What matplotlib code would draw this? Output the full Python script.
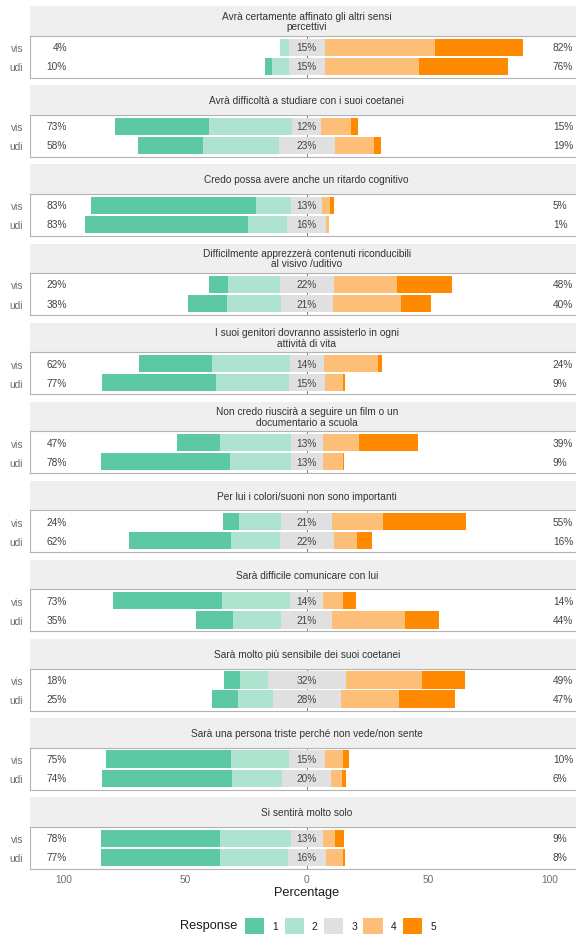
import numpy as np
import matplotlib
matplotlib.use("Agg")
import matplotlib.pyplot as plt
from matplotlib.patches import Patch

plt.rcParams['font.family'] = ['Liberation Sans', 'DejaVu Sans']

# domande (una per pannello)
items = [
    "Avrà certamente affinato gli altri sensi\npercettivi",
    "Avrà difficoltà a studiare con i suoi coetanei",
    "Credo possa avere anche un ritardo cognitivo",
    "Difficilmente apprezzerà contenuti riconducibili\nal visivo /uditivo",
    "I suoi genitori dovranno assisterlo in ogni\nattività di vita",
    "Non credo riuscirà a seguire un film o un\ndocumentario a scuola",
    "Per lui i colori/suoni non sono importanti",
    "Sarà difficile comunicare con lui",
    "Sarà molto più sensibile dei suoi coetanei",
    "Sarà una persona triste perché non vede/non sente",
    "Si sentirà molto solo",
]
groups = ["vis", "udi"]
levels = ["1", "2", "3", "4", "5"]

# percentuali per risposta 1..5
vis_pct = [
    [0, 3.6, 14.6, 45.3, 36.5],
    [39, 34, 12, 12.3, 2.7],
    [68, 14.6, 12.6, 3.4, 1.4],
    [8, 21, 22.4, 26, 22.4],
    [30, 32, 14, 22.2, 1.8],
    [18, 29, 13, 15, 24.4],
    [6.6, 17.4, 21, 20.8, 34.2],
    [45, 28, 13.6, 8.2, 5.4],
    [6.6, 11.4, 32, 31.4, 17.6],
    [51.2, 23.8, 15, 7.4, 2.6],
    [49, 29, 13, 5, 4],
]
udi_pct = [
    [3, 6.8, 14.6, 38.8, 36.8],
    [27, 31, 23, 16, 3],
    [67, 16, 16, 1, 0],
    [16, 22, 21.4, 28, 12.4],
    [47, 30, 14.6, 7.4, 1.2],
    [53, 25, 13, 8.6, 0.4],
    [42, 20, 22, 9.6, 6.4],
    [15, 20, 21, 30, 14],
    [10.6, 14.4, 28, 24, 23],
    [53.4, 20.6, 20, 4.4, 1.6],
    [49, 28, 15.6, 7.2, 0.6],
]

colors = ['#5DC8A4', '#AEE3CF', '#E0E0E0', '#FDBF77', '#FF8A00']
txt_col = '#444444'
tick_col = '#6E6E6E'
fs = 7.3

W, H = 576, 937
fig = plt.figure(figsize=(W / 100, H / 100), dpi=100)

left_px = 29.5
right_px = 584.0
top0 = 36.7
step = 79.1
panel_h = 42.0
strip_h = 29.5

for i, item in enumerate(items):
    top = top0 + i * step
    # striscia titolo
    sax = fig.add_axes([left_px / W, 1 - top / H, (right_px - left_px) / W, strip_h / H])
    sax.set_facecolor('#EFEFEF')
    sax.set_xlim(-114, 114)
    sax.set_ylim(0, 1)
    for s in sax.spines.values():
        s.set_visible(False)
    sax.set_xticks([])
    sax.set_yticks([])
    sax.text(0, 0.5, item, ha='center', va='center', fontsize=fs,
             color='#333333', linespacing=1.05)

    ax = fig.add_axes([left_px / W, 1 - (top + panel_h) / H,
                       (right_px - left_px) / W, panel_h / H])
    ax.set_xlim(-114, 114)
    ax.set_ylim(0.4, 2.6)
    ax.axvline(0, color='#666666', lw=0.6, zorder=0.1)

    for g, data in zip(groups, [vis_pct[i], udi_pct[i]]):
        y = 2 if g == "vis" else 1
        d = np.array(data, dtype=float)
        half = d[2] / 2
        # lato sinistro: 2 poi 1
        ax.barh(y, -d[1], left=-half, height=0.9, color=colors[1], lw=0, zorder=2)
        ax.barh(y, -d[0], left=-half - d[1], height=0.9, color=colors[0], lw=0, zorder=2)
        ax.barh(y, d[2], left=-half, height=0.9, color=colors[2], lw=0, zorder=2)
        ax.barh(y, d[3], left=half, height=0.9, color=colors[3], lw=0, zorder=2)
        ax.barh(y, d[4], left=half + d[3], height=0.9, color=colors[4], lw=0, zorder=2)
        low = round(d[0] + d[1])
        neu = round(d[2])
        high = round(d[3] + d[4])
        ax.text(-98.6, y, f"{low}%", ha='right', va='center', fontsize=fs, color=txt_col)
        ax.text(0, y, f"{neu}%", ha='center', va='center', fontsize=fs, color=txt_col, zorder=3)
        ax.text(101.2, y, f"{high}%", ha='left', va='center', fontsize=fs, color=txt_col)

    for s in ax.spines.values():
        s.set_color('#B3B3B3')
        s.set_linewidth(0.8)
    ax.set_yticks([2, 1])
    ax.set_yticklabels(groups, fontsize=fs, color=tick_col)
    ax.tick_params(axis='y', length=0, pad=4.7)
    if i == len(items) - 1:
        ax.set_xticks([-100, -50, 0, 50, 100])
        ax.set_xticklabels(["100", "50", "0", "50", "100"], fontsize=fs, color=tick_col)
        ax.tick_params(axis='x', length=0, pad=4)
        ax.set_xlabel("Percentage", fontsize=9.2, color='#1A1A1A', labelpad=1)
    else:
        ax.set_xticks([])

# legenda
handles = [Patch(facecolor=c, edgecolor='none') for c in colors]
fig.legend(handles, levels, loc='center', bbox_to_anchor=(340.5 / W, 1 - 927 / H),
           ncol=5, frameon=False, fontsize=fs, handlelength=1.9, handleheight=1.9,
           handletextpad=0.8, columnspacing=0.63, borderpad=0, labelcolor='#1A1A1A')
fig.text(237 / W, 1 - 926 / H, "Response", ha='right', va='center', fontsize=9.2,
         color='#1A1A1A')

fig.savefig("out.png", dpi=100)
